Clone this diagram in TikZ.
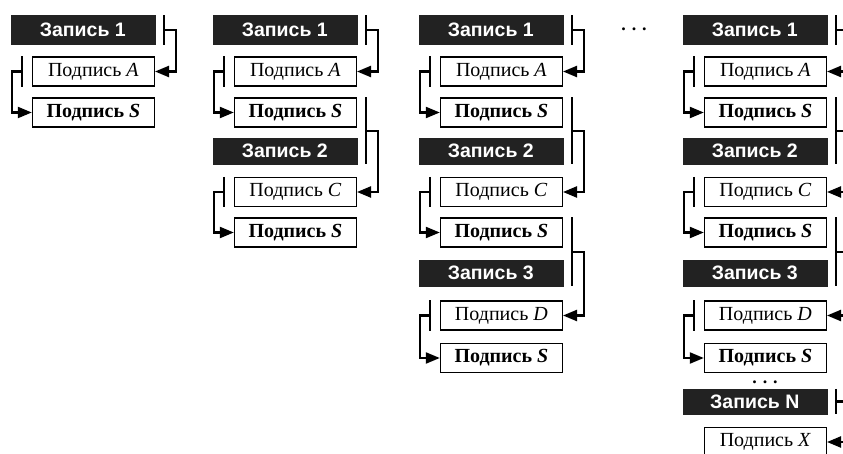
\documentclass[tikz,border=0pt]{standalone}
\usepackage{fontspec}
\setmainfont{Liberation Serif}
\newfontfamily\headfont{Liberation Sans}
\usetikzlibrary{arrows.meta, calc}
\definecolor{dark}{RGB}{34, 34, 34}

\tikzset{
  rec/.style={fill=dark, draw=dark, text=white, anchor=east, inner sep=0pt,
    minimum width=144pt, minimum height=26pt,
    font=\headfont\bfseries\fontsize{19.5}{19.5}\selectfont},
  sig/.style={draw, fill=white, line width=1.2pt, anchor=east, inner sep=0pt,
    minimum width=122pt, minimum height=29pt,
    font=\fontsize{20}{20}\selectfont},
  sigs/.style={sig, font=\bfseries\fontsize{20}{20}\selectfont},
  brk/.style={line width=2.2pt},
  pointer/.style={brk, -{Triangle[length=14pt, width=11pt]}},
  gap/.style={inner sep=0pt, font=\bfseries\fontsize{18}{18}\selectfont}
}

\begin{document}
\begin{tikzpicture}[x=1pt, y=-1pt]
  \clip (0,0) rectangle (843,454);

  % first record, in every column
  \foreach \c/\rx in {1/155, 2/357, 3/563, 4/827} {
    \node[rec, minimum height=29pt] (r1-\c) at (\rx, 30) {Запись 1};
    \node[sig] (a-\c) at (\rx, 71.5) {Подпись \textit{A}};
    \node[sigs] (s1-\c) at (\rx, 112.5) {Подпись \textit{S}};

    \draw[brk] ($(r1-\c.north east)+(9,0)$) -- ($(r1-\c.south east)+(9,0)$);
    \draw[pointer] ($(r1-\c.east)+(9,0)$) -| ($(a-\c.east)+(21,0)$) -- (a-\c.east);
    \draw[brk] ($(a-\c.north west)+(-10,0)$) -- ($(a-\c.south west)+(-10,0)$);
    \draw[pointer] ($(a-\c.west)+(-10,0)$) -| ($(s1-\c.west)+(-20,0)$) -- (s1-\c.west);
  }

  % second record
  \foreach \c/\rx in {2/357, 3/563, 4/827} {
    \node[rec] (r2-\c) at (\rx, 151) {Запись 2};
    \node[sig] (c-\c) at (\rx, 192) {Подпись \textit{C}};
    \node[sigs] (s2-\c) at (\rx, 232.5) {Подпись \textit{S}};

    \draw[brk] ($(s1-\c.north east)+(9,0)$) -- ($(r2-\c.south east)+(9,0)$);
    \draw[pointer] ($(s1-\c.north east)!0.5!(r2-\c.south east)+(9,0)$)
      -| ($(c-\c.east)+(21,0)$) -- (c-\c.east);
    \draw[brk] ($(c-\c.north west)+(-10,0)$) -- ($(c-\c.south west)+(-10,0)$);
    \draw[pointer] ($(c-\c.west)+(-10,0)$) -| ($(s2-\c.west)+(-20,0)$) -- (s2-\c.west);
  }

  % third record
  \foreach \c/\rx in {3/563, 4/827} {
    \node[rec] (r3-\c) at (\rx, 273) {Запись 3};
    \node[sig] (d-\c) at (\rx, 315.5) {Подпись \textit{D}};
    \node[sigs] (s3-\c) at (\rx, 358) {Подпись \textit{S}};

    \draw[brk] ($(s2-\c.north east)+(9,0)$) -- ($(r3-\c.south east)+(9,0)$);
    \draw[pointer] ($(s2-\c.north east)!0.5!(r3-\c.south east)+(9,0)$)
      -| ($(d-\c.east)+(21,0)$) -- (d-\c.east);
    \draw[brk] ($(d-\c.north west)+(-10,0)$) -- ($(d-\c.south west)+(-10,0)$);
    \draw[pointer] ($(d-\c.west)+(-10,0)$) -| ($(s3-\c.west)+(-20,0)$) -- (s3-\c.west);
  }

  % last record, only in the last column
  \node[gap] (dots-n) at (765, 382) {.\hspace{6pt}.\hspace{6pt}.};
  \node[rec, minimum height=25pt] (rn) at (827, 401.5) {Запись N};
  \node[sig] (x) at (827, 442) {Подпись \textit{X}};
  \draw[brk] ($(rn.north east)+(9,0)$) -- ($(rn.south east)+(9,0)$);
  \draw[pointer] ($(rn.east)+(9,0)$) -| ($(x.east)+(21,0)$) -- (x.east);

  \node[gap] (dots-top) at (634, 29) {.\hspace{6pt}.\hspace{6pt}.};
\end{tikzpicture}
\end{document}
